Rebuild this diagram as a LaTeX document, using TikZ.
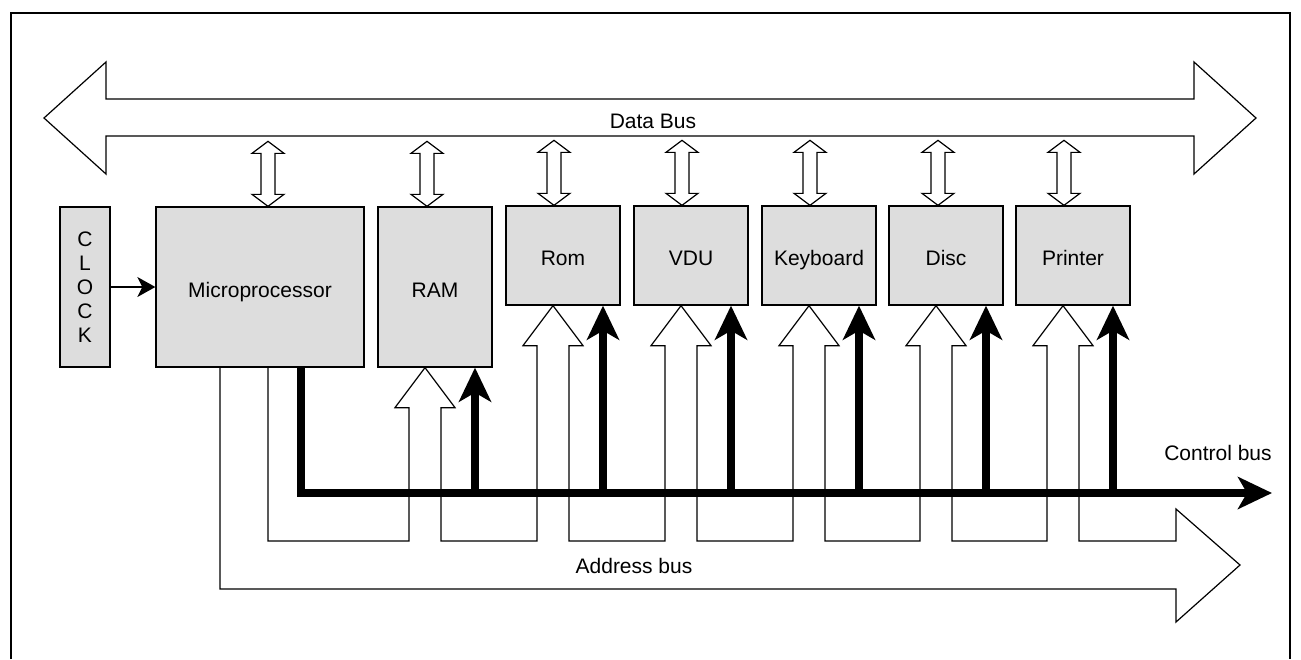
\documentclass[tikz,border=0pt]{standalone}
\usepackage{fontspec}
\setmainfont{Liberation Sans}
\usetikzlibrary{arrows.meta}
\definecolor{boxgray}{RGB}{221,221,221}

\begin{document}
\begin{tikzpicture}[x=1pt,y=-1pt,font=\fontsize{21}{24}\selectfont]
\tikzstyle{box}=[rectangle,draw=black,fill=boxgray,line width=1.3pt,inner sep=0pt]
\tikzstyle{unit}=[box,minimum width=114pt,text height=20pt,text depth=0pt]
\tikzstyle{wire}=[draw=black,line width=1.2pt]
\tikzstyle{ctl}=[draw=black,line width=7.5pt,-{Stealth[length=34pt,width=32pt,inset=9pt]}]
\useasboundingbox (0,0) rectangle (1301,659);
\draw[line width=2pt] (11,659) -- (11,13) -- (1290,13) -- (1290,659);

% boxes
\node[box,minimum width=50pt,minimum height=160pt,align=center] (clock) at (85,287) {C\\L\\O\\C\\K};
\node[unit,minimum width=208pt,minimum height=160pt] (cpu) at (260,287) {Microprocessor};
\node[unit,minimum height=160pt] (ram) at (435,287) {RAM};
\node[unit,minimum height=99pt] (rom) at (563,255.5) {Rom};
\node[unit,minimum height=99pt] (vdu) at (691,255.5) {VDU};
\node[unit,minimum height=99pt] (kbd) at (819,255.5) {Keyboard};
\node[unit,minimum height=99pt] (disc) at (946,255.5) {Disc};
\node[unit,minimum height=99pt] (prn) at (1073,255.5) {Printer};

\draw[wire,-{Stealth[length=18pt,width=20pt,inset=5pt]}] (clock) -- (cpu);

% data bus
\draw[wire] (44,118) -- (106,62) -- (106,99) -- (1194,99) -- (1194,62) -- (1256,118)
  -- (1194,174) -- (1194,136) -- (106,136) -- (106,174) -- cycle;
\node (dlabel) at (653,121) {Data Bus};
\foreach \n/\dx in {cpu/8,ram/-8,rom/-9,vdu/-9,kbd/-9,disc/-8,prn/-9}
  \draw[wire,fill=white] (\n.north) ++(\dx,0) -- ++(-16,-12) -- ++(9,0) -- ++(0,-41) -- ++(-9,0)
    -- ++(16,-12) -- ++(16,12) -- ++(-9,0) -- ++(0,41) -- ++(9,0) -- cycle;

% address bus
\coordinate (ab) at (0,541);
\coordinate (ab2) at (0,589);
\coordinate (ahead) at (1176,541);
\coordinate (cend) at (1272,493);
\path (cpu.south) ++(-40,0) coordinate (a2);
\foreach \n in {ram,rom,vdu,kbd,disc,prn} {
  \path (\n.south) ++(-26,40) coordinate (\n-l);
  \path (\n.south) ++(6,40) coordinate (\n-r);
  \path (\n.south) ++(40,0) coordinate (\n-c);
}
\draw[wire] (cpu.south) ++(8,0) coordinate (a1) -- (a1 |- ab)
  \foreach \n in {ram,rom,vdu,kbd,disc,prn} {
    -- (\n-l |- ab) -- (\n-l) -- ++(-14,0) -- ++(30,-40) -- ++(30,40) -- (\n-r) -- (\n-r |- ab)
  }
  -- (ahead) -- ++(0,-32) -- ++(64,56) -- ++(-64,57) -- ++(0,-33) -- (a2 |- ab2) -- (a2);
\node (alabel) at (634,566) {Address bus};

% control bus
\draw[ctl] (cpu.south) ++(41,0) |- (cend);
\foreach \n in {ram,rom,vdu,kbd,disc,prn}
  \draw[ctl] (\n-c |- cend) -- (\n-c);
\node (clabel) at (1218,453) {Control bus};
\end{tikzpicture}
\end{document}
